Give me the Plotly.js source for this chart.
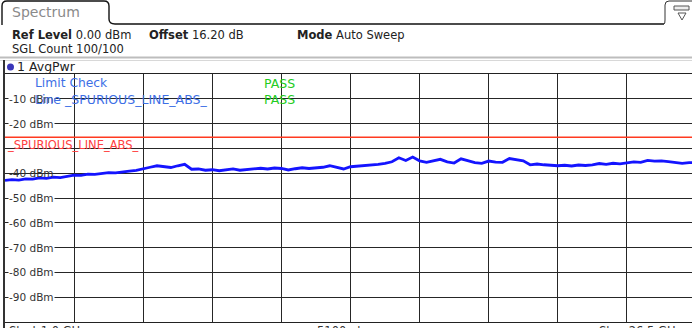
<!DOCTYPE html>
<html>
<head>
<meta charset="utf-8">
<script src="https://cdn.plot.ly/plotly-3.0.1.min.js"></script>
<style>
html,body{margin:0;padding:0;background:#fff;overflow:hidden;}
#chart{width:700px;height:328px;}
</style>
</head>
<body>
<div id="chart"></div>
<script>
// ---- data ----
var sweepPoints = [0,1,2,3,4,5,6,7,8,9,10,11,12,13,14,15,16,17,18,19,20,21,22,23,24,25,26,27,28,29,30,31,32,33,34,35,36,37,38,39,40,41,42,43,44,45,46,47,48,49,50,51,52,53,54,55,56,57,58,59,60,61,62,63,64,65,66,67,68,69,70,71,72,73,74,75,76,77,78,79,80,81,82,83,84,85,86,87,88,89,90,91,92,93,94,95,96,97,98,99,100];
var avgPwr = [-42.9,-42.6,-42.8,-42.3,-42.4,-41.9,-42.1,-41.6,-41.8,-41.3,-40.8,-40.9,-40.4,-40.5,-40.0,-39.8,-39.9,-39.4,-39.2,-38.9,-38.4,-37.6,-37.0,-37.5,-37.7,-37.0,-36.4,-38.4,-38.3,-38.8,-38.6,-39.0,-38.5,-38.3,-38.8,-38.6,-38.1,-38.0,-38.3,-37.9,-38.1,-38.7,-38.2,-37.8,-38.1,-37.9,-37.6,-37.0,-37.6,-38.3,-37.4,-37.2,-36.9,-36.7,-36.4,-36.0,-35.4,-33.8,-34.9,-33.5,-35.0,-35.6,-35.0,-34.4,-35.4,-35.9,-34.2,-35.0,-35.7,-36.0,-35.1,-35.5,-35.6,-34.1,-34.6,-35.0,-36.6,-36.3,-36.6,-36.9,-37.0,-36.8,-37.1,-36.7,-36.9,-36.6,-36.1,-36.4,-36.0,-36.2,-35.8,-35.4,-35.6,-34.8,-35.1,-35.0,-35.3,-35.5,-36.0,-35.7,-35.8];
var limitX = [0, 100];
var limitLine = [-25.5, -25.5];
var yTickVals = [-10,-20,-40,-50,-60,-70,-80,-90];
var yTickLabels = ['-10 dBm','-20 dBm','-40 dBm','-50 dBm','-60 dBm','-70 dBm','-80 dBm','-90 dBm'];

// ---- geometry helpers (pixel -> paper) ----
var L = 5, R = 696, T = 74, B = 322;
function px(x){ return (x - L) / (R - L); }
function py(y){ return (B - y) / (B - T); }

var FONT = 'DejaVu Sans, Verdana, sans-serif';

var traces = [
  {x: limitX, y: limitLine, mode: 'lines', line: {color: '#ff3a20', width: 1.3}, hoverinfo: 'skip'},
  {x: sweepPoints, y: avgPwr, mode: 'lines', line: {color: '#1414ff', width: 2.8}, hoverinfo: 'skip'}
];

var ann = [];
function txt(text, x, y, opts){
  opts = opts || {};
  ann.push({
    xref: 'paper', yref: 'paper', x: px(x), y: py(y), text: text, showarrow: false,
    xanchor: opts.xanchor || 'left', yanchor: 'middle',
    font: {family: FONT, size: opts.size || 11.5, color: opts.color || '#222'},
    bgcolor: opts.bg || 'rgba(0,0,0,0)', borderpad: 0
  });
}
// y labels with white background (except -40 which the trace crosses)
for (var i = 0; i < yTickVals.length; i++) {
  var yy = B - (yTickVals[i] + 100) / 100 * (B - T);
  txt(yTickLabels[i], 8, yy, {bg: yTickVals[i] === -40 ? 'rgba(0,0,0,0)' : '#ffffff', size: 10.5, color: '#333'});
}
// header
txt('Spectrum', 11, 12, {size: 14, color: '#8a8a8a'});
txt('<b>Ref Level</b> 0.00 dBm', 11, 35);
txt('<b>Offset</b> 16.20 dB', 148, 35);
txt('<b>Mode</b> Auto Sweep', 296, 35);
txt('SGL Count 100/100', 11, 49);
txt('1 AvgPwr', 16, 67, {size: 12.5});
// limit check texts
txt('Limit Check', 34, 83, {color: '#3d6fe6', size: 12.3});
txt('Line _SPURIOUS_LINE_ABS_', 34, 99, {color: '#3d6fe6', size: 12.5});
txt('PASS', 263, 83, {color: '#22cc22', size: 12.5});
txt('PASS', 263, 99, {color: '#22cc22', size: 12.5});
txt('_SPURIOUS_LINE_ABS_', 6, 145, {color: '#ff4040', size: 11.5});
// footer (mostly clipped, as in the reference)
txt('Start 1.0 GHz', 8, 331, {color: '#333'});
txt('5100 pts', 316, 331, {color: '#333'});
txt('Stop 26.5 GHz', 598, 331, {color: '#333'});

var shapes = [
  // tab outline
  {type: 'path', xref: 'paper', yref: 'paper',
   path: 'M ' + px(2) + ',' + py(25) + ' L ' + px(2) + ',' + py(6) + ' Q ' + px(2) + ',' + py(1) + ' ' + px(7) + ',' + py(1) +
         ' L ' + px(104) + ',' + py(1) + ' Q ' + px(109) + ',' + py(1) + ' ' + px(109) + ',' + py(6) +
         ' L ' + px(109) + ',' + py(19) + ' Q ' + px(109) + ',' + py(24) + ' ' + px(115) + ',' + py(24) +
         ' L ' + px(664) + ',' + py(24),
   line: {color: '#111', width: 1.4}},
  // icon box at right
  {type: 'path', xref: 'paper', yref: 'paper',
   path: 'M ' + px(664) + ',' + py(24) + ' Q ' + px(665) + ',' + py(24) + ' ' + px(665) + ',' + py(20) +
         ' L ' + px(665) + ',' + py(5) + ' Q ' + px(665) + ',' + py(1) + ' ' + px(669) + ',' + py(1) + ' L ' + px(700) + ',' + py(1),
   line: {color: '#333', width: 1}},
  {type: 'rect', xref: 'paper', yref: 'paper', x0: px(674), x1: px(689), y0: py(6), y1: py(10),
   line: {color: '#555', width: 1}, fillcolor: '#eee'},
  {type: 'path', xref: 'paper', yref: 'paper',
   path: 'M ' + px(678) + ',' + py(13) + ' L ' + px(686) + ',' + py(13) + ' L ' + px(682) + ',' + py(20) + ' Z',
   line: {color: '#555', width: 1}},
  // gray separator bar
  {type: 'line', xref: 'paper', yref: 'paper', x0: px(0), x1: px(700), y0: py(57.5), y1: py(57.5),
   line: {color: '#bdbdbd', width: 2}},
  // outer trace window frame
  {type: 'line', xref: 'paper', yref: 'paper', x0: px(0), x1: px(700), y0: py(60.5), y1: py(60.5),
   line: {color: '#d8d8d8', width: 1}},
  {type: 'line', xref: 'paper', yref: 'paper', x0: px(4), x1: px(4), y0: py(60), y1: py(328),
   line: {color: '#333', width: 2}},
  // trace dot
  {type: 'circle', xref: 'paper', yref: 'paper', x0: px(7), x1: px(14), y0: py(63.5), y1: py(70.5),
   fillcolor: '#3a36b8', line: {color: '#3a36b8', width: 0}}
];

var layout = {
  width: 700, height: 328,
  margin: {l: L, r: 700 - R, t: T, b: 328 - B, pad: 0},
  paper_bgcolor: '#ffffff', plot_bgcolor: '#ffffff',
  showlegend: false,
  xaxis: {range: [0, 100], tick0: 0, dtick: 10, showgrid: true, gridcolor: '#262626', gridwidth: 1,
          showticklabels: false, ticks: '', zeroline: false, showline: true, linecolor: '#222', linewidth: 1, mirror: true, fixedrange: true},
  yaxis: {range: [-100, 0], tick0: 0, dtick: 10, showgrid: true, gridcolor: '#262626', gridwidth: 1,
          showticklabels: false, ticks: '', zeroline: false, showline: true, linecolor: '#222', linewidth: 1, mirror: true, fixedrange: true},
  annotations: ann,
  shapes: shapes
};

Plotly.newPlot('chart', traces, layout, {displayModeBar: false, staticPlot: true});
</script>
</body>
</html>
